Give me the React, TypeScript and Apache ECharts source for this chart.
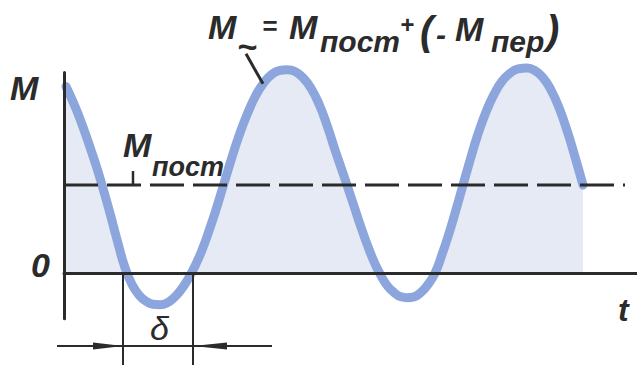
import { useEffect, useRef } from "react";
import * as echarts from "echarts";

// Time samples along the t axis and the moment M(t) read at each of them.
const T_VALUES = [
  0.2, 1.0, 1.8, 2.6, 3.3, 3.9, 4.6, 5.3, 6.1, 6.8, 7.5, 8.2, 8.9, 9.6,
  10.3, 11.0, 11.7, 12.4, 13.1, 13.8, 14.5, 15.2, 15.9, 16.7, 17.5, 18.3,
  19.1, 19.9, 20.7, 21.5, 22.3, 23.1, 23.9, 24.7, 25.5, 26.3, 27.1, 27.7,
  28.3, 29.0, 29.7, 30.4, 31.0, 31.6, 32.3, 33.0, 33.7, 34.3, 35.0, 35.7,
  36.4, 37.1, 37.8, 38.5, 39.1, 39.8, 40.6, 41.4, 42.2, 43.0, 43.8, 44.6,
  45.4, 46.3, 47.1, 47.9, 48.7, 49.5, 50.3, 51.1, 51.9,
];
const M_VALUES = [
  2.12, 1.92, 1.69, 1.43, 1.19, 0.96, 0.68, 0.38, 0.06, -0.13, -0.25, -0.32, -0.355, -0.36,
  -0.34, -0.28, -0.19, -0.07, 0.08, 0.26, 0.48, 0.72, 0.98, 1.28, 1.56, 1.8,
  2.0, 2.15, 2.25, 2.3, 2.31, 2.29, 2.22, 2.1, 1.92, 1.68, 1.4, 1.2,
  1.0, 0.76, 0.52, 0.3, 0.13, -0.01, -0.14, -0.22, -0.27, -0.28, -0.27, -0.22,
  -0.13, 0.0, 0.21, 0.45, 0.68, 0.96, 1.28, 1.58, 1.83, 2.03, 2.18, 2.27,
  2.32, 2.33, 2.3, 2.22, 2.08, 1.88, 1.62, 1.32, 1.0,
];

// Constant component of the moment (dashed line) and its extent along t.
const M_POST = 1.0;
const POST_LINE_T = [0, 56.1];

// Interval δ during which the moment is negative, and its dimension line.
const DELTA_FROM = 5.9;
const DELTA_TO = 12.9;
const DIM_LINE_M = -0.83;
const DIM_LINE_BOTTOM_M = -1.045;
const DIM_LINE_T = [-0.7, 20.8];

const INK = "#2b2b2b";
const CURVE = "#8ca6dd";
const FILL = "#e5eaf4";
const FONT = '"Liberation Sans", Arial, sans-serif';

function label(text: string, x: number, y: number, size: number, weight = "bold") {
  return {
    type: "text",
    x,
    y,
    z: 20,
    style: {
      text,
      fill: INK,
      font: `italic ${weight} ${size}px ${FONT}`,
      textAlign: "left",
      textVerticalAlign: "middle",
      verticalAlign: "middle",
    },
  };
}

export default function App() {
  const ref = useRef<HTMLDivElement>(null);

  useEffect(() => {
    if (!ref.current) return;
    const chart = echarts.init(ref.current, undefined, { renderer: "svg" });

    const curve = T_VALUES.map((t, i) => [t, M_VALUES[i]]);
    // shading covers only the part of the curve above the zero line
    const shaded = T_VALUES.map((t, i) => [t, Math.max(0, M_VALUES[i])]);
    const post = POST_LINE_T.map((t) => [t, M_POST]);

    chart.setOption({
      animation: false,
      backgroundColor: "#ffffff",
      grid: { left: 64, right: 0, top: 72.4, bottom: 50.2 },
      xAxis: {
        type: "value",
        min: 0,
        max: 57.3,
        z: 5,
        axisLine: { show: true, onZero: true, lineStyle: { color: INK, width: 3 } },
        axisTick: { show: false },
        axisLabel: { show: false },
        splitLine: { show: false },
      },
      yAxis: {
        type: "value",
        min: -0.52,
        max: 2.28,
        z: 5,
        axisLine: { show: true, onZero: false, lineStyle: { color: INK, width: 3 } },
        axisTick: { show: false },
        axisLabel: { show: false },
        splitLine: { show: false },
      },
      series: [
        {
          type: "line",
          data: shaded,
          smooth: true,
          symbol: "none",
          clip: false,
          z: 1,
          lineStyle: { width: 0, opacity: 0 },
          areaStyle: { color: FILL, opacity: 1 },
        },
        {
          type: "line",
          data: curve,
          smooth: true,
          symbol: "none",
          clip: false,
          z: 2,
          lineStyle: { color: CURVE, width: 9, cap: "round" },
        },
        {
          type: "line",
          data: post,
          symbol: "none",
          clip: false,
          z: 4,
          lineStyle: { color: INK, width: 3, type: [34, 9] },
        },
      ],
    });

    const px = (t: number, m: number) =>
      chart.convertToPixel({ gridIndex: 0 }, [t, m]) as number[];

    const [x1, y0] = px(DELTA_FROM, 0);
    const [x2] = px(DELTA_TO, 0);
    const [, yDim] = px(0, DIM_LINE_M);
    const [, yBottom] = px(0, DIM_LINE_BOTTOM_M);
    const [xDimL] = px(DIM_LINE_T[0], 0);
    const [xDimR] = px(DIM_LINE_T[1], 0);
    const [leadX, leadY] = px(19.9, 2.15);
    const [postX, postY] = px(6.9, M_POST);

    const thin = { stroke: INK, lineWidth: 2 };

    chart.setOption({
      graphic: [
        // δ dimension
        { type: "line", z: 15, shape: { x1, y1: y0, x2: x1, y2: yBottom }, style: thin },
        { type: "line", z: 15, shape: { x1: x2, y1: y0, x2, y2: yBottom }, style: thin },
        { type: "line", z: 15, shape: { x1: xDimL, y1: yDim, x2: xDimR, y2: yDim }, style: thin },
        {
          type: "polygon",
          z: 15,
          shape: { points: [[x1, yDim], [x1 - 30, yDim - 3.5], [x1 - 30, yDim + 3.5]] },
          style: { fill: INK },
        },
        {
          type: "polygon",
          z: 15,
          shape: { points: [[x2, yDim], [x2 + 34, yDim - 3.5], [x2 + 34, yDim + 3.5]] },
          style: { fill: INK },
        },
        // leader lines
        {
          type: "line",
          z: 15,
          shape: { x1: leadX - 17, y1: leadY - 30, x2: leadX, y2: leadY },
          style: { stroke: INK, lineWidth: 3 },
        },
        {
          type: "line",
          z: 15,
          shape: { x1: postX, y1: postY - 14, x2: postX, y2: postY },
          style: { stroke: INK, lineWidth: 2.5 },
        },
        // axis names
        label("M", 10, 88, 34),
        label("0", 31, 265, 34),
        label("t", 618, 310, 32),
        label("δ", 150, 328, 34, "normal"),
        // constant component
        label("M", 123, 145, 34),
        label("пост", 152, 167, 27),
        // M~ = Mпост + (-Mпер)
        label("M", 208, 27, 34),
        label("~", 237, 46, 34),
        label("=", 262, 26, 26),
        label("M", 289, 27, 34),
        label("пост", 320, 41, 30),
        label("+", 400, 24, 24),
        label("(", 420, 31, 40),
        label("-", 436, 34, 30),
        label("M", 455, 29, 34),
        label("пер", 491, 41, 30),
        label(")", 546, 30, 40),
      ],
    });

    return () => chart.dispose();
  }, []);

  return (
    <div
      ref={ref}
      style={{ position: "fixed", left: 0, top: 0, width: 637, height: 369 }}
    />
  );
}
